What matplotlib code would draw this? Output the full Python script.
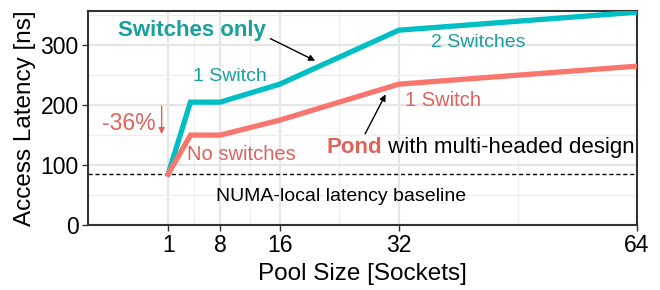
import numpy as np
import matplotlib
matplotlib.use("Agg")
import matplotlib.pyplot as plt

plt.rcParams['font.family'] = ['Liberation Sans', 'DejaVu Sans']

sockets = [1, 4, 8, 16, 32, 64]
switches_only = [85, 205, 205, 235, 325, 355]
pond = [85, 150, 150, 175, 235, 265]
baseline = 85
xticks = [1, 8, 16, 32, 64]
yticks = [0, 100, 200, 300]

teal = "#00BFC4"
red = "#F8766D"
teal_txt = "#17A19C"
red_txt = "#E0625C"

fig = plt.figure(figsize=(6.6, 2.9), dpi=100)
ax = fig.add_axes([0.133, 0.224, 0.832, 0.738])

ax.plot(sockets, switches_only, color=teal, lw=3.8, solid_joinstyle="miter", zorder=3)
ax.plot(sockets, pond, color=red, lw=3.8, solid_joinstyle="miter", zorder=3)
ax.axhline(baseline, color="black", lw=1, ls=(0, (3, 2)), zorder=2)

ax.set_xlim(-9.8, 64)
ax.set_ylim(0, 357)
ax.set_xticks(xticks)
ax.set_yticks(yticks)
ax.set_xticks([4.5, 12, 24, 48], minor=True)
ax.set_yticks([50, 150, 250, 350], minor=True)
ax.grid(True, which="major", color="#e6e6e6", lw=1.6, zorder=0)
ax.grid(True, which="minor", color="#eeeeee", lw=0.9, zorder=0)
ax.tick_params(which="minor", length=0)
ax.tick_params(which="major", labelsize=16.5, length=4, width=1, color="#333333", pad=2.5)
for s in ax.spines.values():
    s.set_color("#333333")
    s.set_linewidth(1.5)

ax.set_xlabel("Pool Size [Sockets]", fontsize=17.5, labelpad=4)
ax.set_ylabel("Access Latency [ns]", fontsize=17.5, labelpad=3)

# annotations
ax.text(4.2, 325, "Switches only", color=teal_txt, fontsize=16, fontweight="bold", ha="center", va="center")
ax.annotate("", xy=(21.1, 272), xytext=(14.4, 313),
            arrowprops=dict(arrowstyle="-|>", color="black", lw=1, mutation_scale=9))
ax.text(9.3, 247, "1 Switch", color=teal_txt, fontsize=14, ha="center", va="center")
ax.text(42.7, 305, "2 Switches", color=teal_txt, fontsize=14, ha="center", va="center")
ax.text(-4.3, 170, "-36%", color=red_txt, fontsize=16.5, ha="center", va="center")
ax.annotate("", xy=(0.13, 147), xytext=(0.13, 203),
            arrowprops=dict(arrowstyle="-|>", color=red_txt, lw=1, mutation_scale=9))
ax.text(10.9, 117, "No switches", color=red_txt, fontsize=14.5, ha="center", va="center")
ax.text(37.9, 207, "1 Switch", color=red_txt, fontsize=14.5, ha="center", va="center")
t1 = ax.text(22.3, 130, "Pond", color=red_txt, fontsize=16, fontweight="bold", ha="left", va="center")
ax.annotate(" with multi-headed design", xycoords=t1, xy=(1, 0.5), va="center", ha="left",
            fontsize=16, color="black")
ax.annotate("", xy=(30.4, 222), xytext=(27.3, 148),
            arrowprops=dict(arrowstyle="-|>", color="black", lw=1, mutation_scale=9))
ax.text(24.2, 47, "NUMA-local latency baseline", color="black", fontsize=14, ha="center", va="center")

fig.savefig("out.png", dpi=100)
